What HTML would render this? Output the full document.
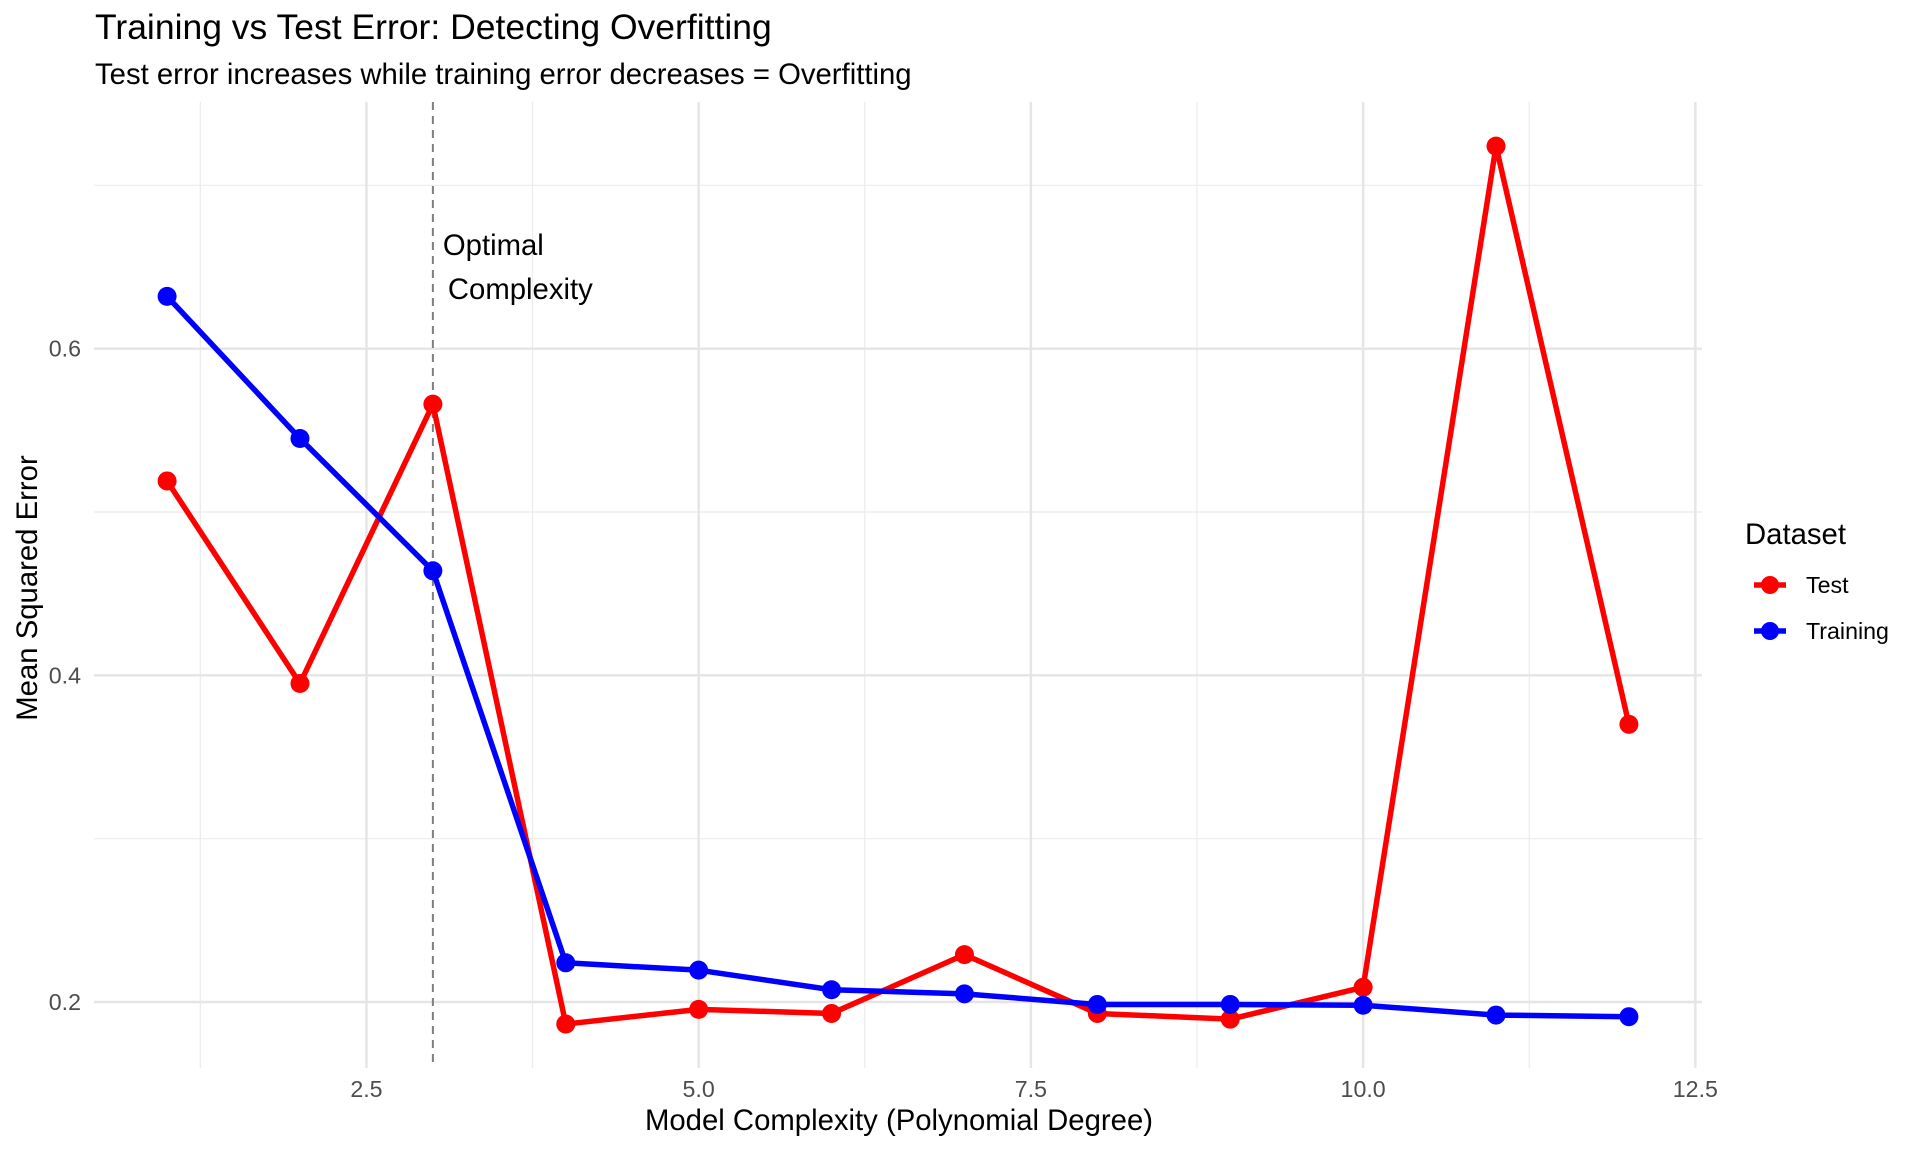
<!DOCTYPE html>
<html><head><meta charset="utf-8"><style>
body{margin:0;background:#fff;}
svg{display:block;font-family:"Liberation Sans",Arial,sans-serif;}
</style></head><body>
<svg id="chart" width="1920" height="1152" xmlns="http://www.w3.org/2000/svg">
<rect width="1920" height="1152" fill="#fff"/>
<text x="95" y="39" font-size="35.5" fill="#000">Training vs Test Error: Detecting Overfitting</text>
<text x="95" y="84" font-size="29.3" fill="#000">Test error increases while training error decreases = Overfitting</text>
<g id="grid"></g>
<g id="marks"></g>
<g id="axes"></g>
<text x="899" y="1130" font-size="29.3" text-anchor="middle">Model Complexity (Polynomial Degree)</text>
<text transform="translate(37,588) rotate(-90)" font-size="29.3" text-anchor="middle">Mean Squared Error</text>
<g>
<text x="1745" y="544" font-size="29.3">Dataset</text>
<g>
<line x1="1754" y1="585" x2="1786" y2="585" stroke="#f00" stroke-width="5.5"/>
<circle cx="1770" cy="585" r="9" fill="#f00"/>
<text x="1806" y="593" font-size="23.2">Test</text></g>
<g>
<line x1="1754" y1="631" x2="1786" y2="631" stroke="#00f" stroke-width="5.5"/>
<circle cx="1770" cy="631" r="9" fill="#00f"/>
<text x="1806" y="639" font-size="23.2">Training</text></g>
</g>
</svg>
<script>
const degrees=[1,2,3,4,5,6,7,8,9,10,11,12];
const trainingValues=[0.632,0.545,0.464,0.224,0.2195,0.2075,0.205,0.1985,0.1985,0.198,0.192,0.191];
const testValues=[0.519,0.395,0.566,0.1865,0.1955,0.193,0.229,0.193,0.1895,0.209,0.724,0.370];
const xTicks=[2.5,5.0,7.5,10.0,12.5];
const xTickLabels=["2.5","5.0","7.5","10.0","12.5"];
const xMinor=[1.25,3.75,6.25,8.75,11.25];
const yTicks=[0.2,0.4,0.6];
const yTickLabels=["0.2","0.4","0.6"];
const yMinor=[0.3,0.5,0.7];
const optimalDegree=3;

const NS="http://www.w3.org/2000/svg";
const L=94,R=1702,T=102,B=1068;
const xMin=0.45,xMax=12.55,yMin=0.1596,yMax=0.751;
function X(u){return L+(u-xMin)/(xMax-xMin)*(R-L);}
function Y(v){return B-(v-yMin)/(yMax-yMin)*(B-T);}
function mk(tag,attrs,parent){const e=document.createElementNS(NS,tag);for(const k in attrs)e.setAttribute(k,attrs[k]);parent.appendChild(e);return e;}
const grid=document.getElementById('grid'),marks=document.getElementById('marks'),axes=document.getElementById('axes');
yMinor.forEach(v=>{const l=mk('line',{x1:L,x2:R,y1:Y(v),y2:Y(v),stroke:'#ebebeb','stroke-width':1.2},grid);

});
xMinor.forEach(u=>{const l=mk('line',{x1:X(u),x2:X(u),y1:T,y2:B,stroke:'#ebebeb','stroke-width':1.2},grid);

});
yTicks.forEach((v,i)=>{const l=mk('line',{x1:L,x2:R,y1:Y(v),y2:Y(v),stroke:'#e5e5e5','stroke-width':2.4},grid);


const t=mk('text',{x:81,y:Y(v)+8,'font-size':23.2,fill:'#4d4d4d','text-anchor':'end'},axes);t.textContent=yTickLabels[i];

});
xTicks.forEach((u,i)=>{const l=mk('line',{x1:X(u),x2:X(u),y1:T,y2:B,stroke:'#e5e5e5','stroke-width':2.4},grid);


const t=mk('text',{x:X(u),y:1097,'font-size':23.2,fill:'#4d4d4d','text-anchor':'middle'},axes);t.textContent=xTickLabels[i];

});
const vl=mk('line',{x1:X(optimalDegree),x2:X(optimalDegree),y1:T,y2:B,stroke:'#7f7f7f','stroke-width':2,'stroke-dasharray':'8,6'},marks);


const a1=mk('text',{x:X(optimalDegree)+10,y:255,'font-size':29.3},marks);a1.textContent='Optimal';


const a2=mk('text',{x:X(optimalDegree)+15,y:299,'font-size':29.3},marks);a2.textContent='Complexity';


function series(vals,color,name){
 const p=mk('polyline',{points:degrees.map((d,i)=>X(d)+','+Y(vals[i])).join(' '),fill:'none',stroke:color,'stroke-width':5.5,'stroke-linejoin':'round'},marks);
 
 
 degrees.forEach((d,i)=>{const c=mk('circle',{cx:X(d),cy:Y(vals[i]),r:9.5,fill:color},marks);
 
 });
}
series(testValues,'#ff0000','test');
series(trainingValues,'#0000ff','training');
</script>
</body></html>
